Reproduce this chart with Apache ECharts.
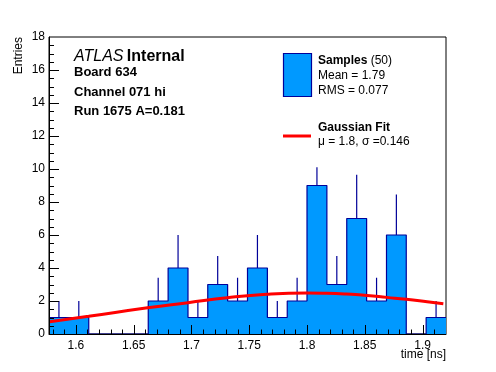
<!DOCTYPE html>
<html><head><meta charset="utf-8">
<script src="https://cdn.jsdelivr.net/npm/echarts@6/dist/echarts.min.js"></script>
<style>html,body{margin:0;padding:0;background:#fff}#c{width:496px;height:372px}</style>
</head><body><div id="c"></div>
<script>
// Histogram bins (time [ns])
const binEdges = [1.5767,1.5939,1.6111,1.6282,1.6454,1.6626,1.6798,1.6970,1.7141,1.7313,1.7485,
                  1.7657,1.7829,1.8000,1.8172,1.8344,1.8516,1.8688,1.8859,1.9031,1.9203];
const binCounts = [1,1,0,0,0,2,4,1,3,2,4,1,2,9,3,7,2,6,0,1];
const binErrors = [1,1,0,0,0,1.41,2,1,1.73,1.41,2,1,1.41,1.1,1.73,2.65,1.41,2.45,0,1];
// Gaussian fit curve
const fitX = [1.5773,1.611,1.662,1.697,1.731,1.765,1.800,1.817,1.834,1.852,1.869,1.886,1.904,1.918];
const fitY = [0.74,1.07,1.59,1.9,2.2,2.41,2.49,2.47,2.42,2.34,2.22,2.10,1.95,1.83];
// Axis ranges / ticks
const xMin = 1.5767, xMax = 1.9203;
const xMajorTicks = [1.6,1.65,1.7,1.75,1.8,1.85,1.9];
const xMinorTicks = [1.58,1.59,1.61,1.62,1.63,1.64,1.66,1.67,1.68,1.69,1.71,1.72,1.73,1.74,
                     1.76,1.77,1.78,1.79,1.81,1.82,1.83,1.84,1.86,1.87,1.88,1.89,1.91];
const yMin = 0, yMax = 18, yStep = 2;
const yMajorTicks = [2,4,6,8,10,12,14,16];
const yMinorTicks = [0.5,1,1.5,2.5,3,3.5,4.5,5,5.5,6.5,7,7.5,8.5,9,9.5,10.5,11,11.5,
                     12.5,13,13.5,14.5,15,15.5,16.5,17,17.5];

const FONT = 'Liberation Sans, Arial, Helvetica, sans-serif';
const FILL = '#0099ff', EDGE = '#000099';

const chart = echarts.init(document.getElementById('c'), null, {renderer:'canvas'});
const histData = binEdges.map((e,i)=>[e, binCounts[Math.min(i, binCounts.length-1)]]);
const errData = binCounts.map((v,i)=>[(binEdges[i]+binEdges[i+1])/2, v, binErrors[i]]);
const fitData = fitX.map((x,i)=>[x, fitY[i]]);
// tick marks: [value, kind] kind 0 x-major, 1 x-minor, 2 y-major, 3 y-minor
const tickData = [].concat(
  xMajorTicks.map(v=>[v,0]), xMinorTicks.map(v=>[v,1]),
  yMajorTicks.map(v=>[v,2]), yMinorTicks.map(v=>[v,3]));
const TICKLEN = [9,4.5,10,5];

chart.setOption({
  animation:false,
  backgroundColor:'#fff',
  grid:{left:49,right:50,top:37,bottom:38,show:true,borderColor:'#000',borderWidth:1,
        backgroundColor:'transparent',containLabel:false,outerBoundsMode:'none'},
  xAxis:{
    type:'value',min:xMin,max:xMax,splitNumber:7,position:'bottom',z:10,
    axisLine:{show:true,onZero:false,lineStyle:{color:'#000',width:1}},
    axisTick:{show:false},
    axisLabel:{show:true,showMinLabel:false,showMaxLabel:false,margin:6,color:'#000',
               fontFamily:FONT,fontSize:12,formatter:v=>String(+(+v).toFixed(2))},
    splitLine:{show:false}
  },
  yAxis:{
    type:'value',min:yMin,max:yMax,interval:yStep,z:10,
    axisLine:{show:true,onZero:false,lineStyle:{color:'#000',width:1}},
    axisTick:{show:false},
    axisLabel:{margin:4,color:'#000',fontFamily:FONT,fontSize:12},
    splitLine:{show:false}
  },
  series:[
    {type:'line',data:histData,step:'end',symbol:'none',
     lineStyle:{color:EDGE,width:1.2},areaStyle:{color:FILL,opacity:1},z:2,silent:true},
    {type:'custom',data:errData,encode:{x:0,y:1},z:3,silent:true,
     renderItem:(params,api)=>{
       const c=api.value(0), v=api.value(1), e=api.value(2);
       if(!e) return null;
       const p1=api.coord([c,v]), p2=api.coord([c,v+e]);
       return {type:'line',shape:{x1:p1[0],y1:p1[1],x2:p2[0],y2:p2[1]},
               style:{stroke:EDGE,lineWidth:1.2}};
     }},
    {type:'line',data:fitData,smooth:true,symbol:'none',
     lineStyle:{color:'#ff0000',width:3},z:4,silent:true},
    {type:'custom',data:tickData,z:6,silent:true,clip:false,
     renderItem:(params,api)=>{
       const v=api.value(0), k=api.value(1), len=TICKLEN[k];
       if(k<2){
         const p=api.coord([v,yMin]); const x=Math.round(p[0])+0.5;
         return {type:'line',shape:{x1:x,y1:p[1],x2:x,y2:p[1]-len},style:{stroke:'#000',lineWidth:1}};
       } else {
         const p=api.coord([xMin,v]); const y=Math.round(p[1])+0.5;
         return {type:'line',shape:{x1:p[0],y1:y,x2:p[0]+len,y2:y},style:{stroke:'#000',lineWidth:1}};
       }
     }}
  ],
  graphic:[
    {type:'text',x:19,y:37,rotation:Math.PI/2,z:20,
     style:{text:'Entries',align:'right',verticalAlign:'middle',font:'12px '+FONT,fill:'#000'}},
    {type:'text',x:446,y:355,z:20,
     style:{text:'time [ns]',align:'right',verticalAlign:'middle',font:'12px '+FONT,fill:'#000'}},
    {type:'text',x:74,y:57,z:20,
     style:{text:'{a|ATLAS} {b|Internal}',verticalAlign:'middle',
            rich:{a:{fontStyle:'italic',fontSize:16,fontFamily:FONT,fill:'#000'},
                  b:{fontWeight:'bold',fontSize:16,fontFamily:FONT,fill:'#000'}}}},
    {type:'text',x:74,y:72,z:20,
     style:{text:'Board 634',verticalAlign:'middle',font:'bold 13px '+FONT,fill:'#000'}},
    {type:'text',x:74,y:92,z:20,
     style:{text:'Channel 071 hi',verticalAlign:'middle',font:'bold 13px '+FONT,fill:'#000'}},
    {type:'text',x:74,y:111.5,z:20,
     style:{text:'Run 1675 A=0.181',verticalAlign:'middle',font:'bold 13px '+FONT,fill:'#000'}},
    {type:'rect',shape:{x:283.5,y:53.5,width:28,height:43},z:20,
     style:{fill:FILL,stroke:EDGE,lineWidth:1.2}},
    {type:'text',x:318,y:61,z:20,
     style:{text:'{b|Samples} (50)',verticalAlign:'middle',font:'12px '+FONT,fill:'#000',
            rich:{b:{fontWeight:'bold',fontSize:12,fontFamily:FONT,fill:'#000'}}}},
    {type:'text',x:318,y:76,z:20,
     style:{text:'Mean = 1.79',verticalAlign:'middle',font:'12px '+FONT,fill:'#000'}},
    {type:'text',x:318,y:90.5,z:20,
     style:{text:'RMS = 0.077',verticalAlign:'middle',font:'12px '+FONT,fill:'#000'}},
    {type:'line',shape:{x1:283,y1:136,x2:311,y2:136},z:20,
     style:{stroke:'#ff0000',lineWidth:3}},
    {type:'text',x:318,y:128,z:20,
     style:{text:'Gaussian Fit',verticalAlign:'middle',font:'bold 12px '+FONT,fill:'#000'}},
    {type:'text',x:318,y:141.5,z:20,
     style:{text:'μ = 1.8, σ =0.146',verticalAlign:'middle',font:'12px '+FONT,fill:'#000'}}
  ]
});
</script></body></html>
